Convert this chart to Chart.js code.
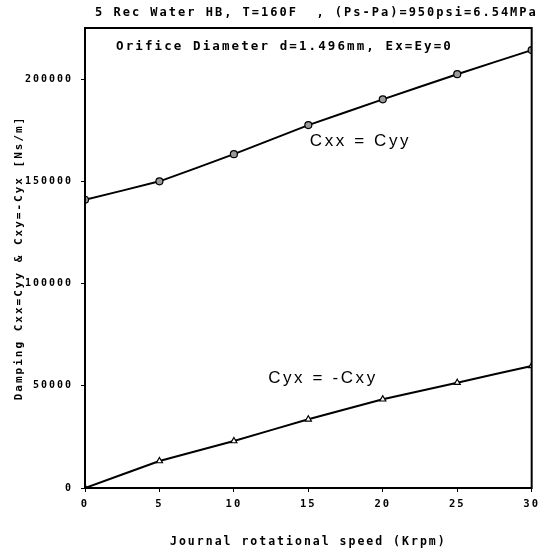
<!DOCTYPE html>
<html>
<head>
<meta charset="utf-8">
<script src="https://cdn.jsdelivr.net/npm/chart.js@4/dist/chart.umd.min.js"></script>
<style>
  html, body { margin: 0; padding: 0; background: #fff; }
  #wrap { width: 546px; height: 552px; position: relative; }
</style>
</head>
<body>
<div id="wrap"><canvas id="c"></canvas></div>
<script>
// ---- data ----
const speeds = [0, 5, 10, 15, 20, 25, 30];                         // Krpm
const cxxValues = [141000, 150000, 163300, 177500, 190100, 202400, 214200]; // Cxx = Cyy [Ns/m]
const cyxValues = [0, 13200, 23000, 33600, 43400, 51500, 59700];             // Cyx = -Cxy [Ns/m]
const xTicks = [0, 5, 10, 15, 20, 25, 30];
const yTicks = [0, 50000, 100000, 150000, 200000];
const chartTitle = '5 Rec Water HB, T=160F  , (Ps-Pa)=950psi=6.54MPa';
const noteText = 'Orifice Diameter d=1.496mm, Ex=Ey=0';
const curveLabelTexts = ['Cxx = Cyy', 'Cyx = -Cxy'];

const monoBold = '"DejaVu Sans Mono", "Liberation Mono", monospace';

const spacingPlugin = {
  id: 'spacing',
  beforeUpdate(chart) { chart.ctx.letterSpacing = '2px'; },
  beforeLayout(chart) { chart.ctx.letterSpacing = '2px'; },
  beforeDraw(chart) { chart.ctx.letterSpacing = '2px'; }
};

const decorPlugin = {
  id: 'decor',
  afterDraw(chart) {
    const ctx = chart.ctx;
    const a = chart.chartArea;
    const xs = chart.scales.x, ys = chart.scales.y;
    ctx.save();
    // frame
    ctx.strokeStyle = '#000';
    ctx.lineWidth = 2;
    ctx.strokeRect(a.left, a.top, a.right - a.left, a.bottom - a.top);
    // title
    ctx.fillStyle = '#000';
    ctx.textBaseline = 'middle';
    ctx.textAlign = 'left';
    ctx.letterSpacing = '2px';
    ctx.font = 'bold 12px ' + monoBold;
    ctx.fillText(chartTitle, a.left + 10, a.top - 15);
    // note inside plot
    ctx.font = 'bold 12.5px ' + monoBold;
    ctx.letterSpacing = '2.1px';
    ctx.fillText(noteText, a.left + 31, a.top + 19);
    // curve labels
    ctx.font = '17px "Liberation Sans", Arial, sans-serif';
    ctx.letterSpacing = '2.6px';
    const anchors = [[15.1, 169700], [12.3, 53800]];
    curveLabelTexts.forEach((t, i) => {
      ctx.fillText(t, xs.getPixelForValue(anchors[i][0]), ys.getPixelForValue(anchors[i][1]));
    });
    ctx.restore();
  }
};

new Chart(document.getElementById('c'), {
  type: 'line',
  data: {
    datasets: [
      {
        label: curveLabelTexts[0],
        data: speeds.map((s, i) => ({ x: s, y: cxxValues[i] })),
        borderColor: '#000',
        borderWidth: 2,
        pointStyle: 'circle',
        pointRadius: 3.5,
        pointBorderWidth: 1.2,
        pointBorderColor: '#000',
        pointBackgroundColor: '#9a9a9a',
        tension: 0.05,
        fill: false
      },
      {
        label: curveLabelTexts[1],
        data: speeds.map((s, i) => ({ x: s, y: cyxValues[i] })),
        borderColor: '#000',
        borderWidth: 2,
        pointStyle: 'triangle',
        pointRadius: 3.5,
        pointBorderWidth: 1.2,
        pointBorderColor: '#000',
        pointBackgroundColor: '#fff',
        tension: 0.05,
        fill: false
      }
    ]
  },
  options: {
    responsive: true,
    maintainAspectRatio: false,
    animation: false,
    layout: { padding: { top: 28, right: 12, left: 0, bottom: 0 } },
    plugins: {
      legend: { display: false },
      title: { display: false },
      tooltip: { enabled: false }
    },
    scales: {
      x: {
        type: 'linear',
        min: 0, max: 30,
        afterBuildTicks(scale) { scale.ticks = xTicks.map(v => ({ value: v })); },
        afterFit(scale) { scale.height = 64; },
        border: { display: true, color: '#000', width: 2 },
        grid: { display: true, drawOnChartArea: false, color: '#000', tickLength: 4, lineWidth: 1 },
        ticks: {
          color: '#000',
          padding: 6,
          maxRotation: 0,
          font: { family: monoBold, size: 10.5, weight: 'bold' },
          callback: v => String(v)
        },
        title: {
          display: true,
          text: 'Journal rotational speed (Krpm)',
          color: '#000',
          font: { family: monoBold, size: 11.5, weight: 'bold' },
          padding: { top: 0, bottom: 3 }
        }
      },
      y: {
        type: 'linear',
        min: 0, max: 225000,
        afterBuildTicks(scale) { scale.ticks = yTicks.map(v => ({ value: v })); },
        afterFit(scale) { scale.width = 85; },
        border: { display: true, color: '#000', width: 2 },
        grid: { display: true, drawOnChartArea: false, color: '#000', tickLength: 4, lineWidth: 1 },
        ticks: {
          color: '#000',
          padding: 8,
          font: { family: monoBold, size: 10, weight: 'bold' },
          callback: v => String(v)
        },
        title: {
          display: true,
          text: 'Damping Cxx=Cyy & Cxy=-Cyx [Ns/m]',
          color: '#000',
          font: { family: monoBold, size: 11, weight: 'bold' },
          padding: { top: 13, bottom: 0 }
        }
      }
    }
  },
  plugins: [spacingPlugin, decorPlugin]
});
</script>
</body>
</html>
